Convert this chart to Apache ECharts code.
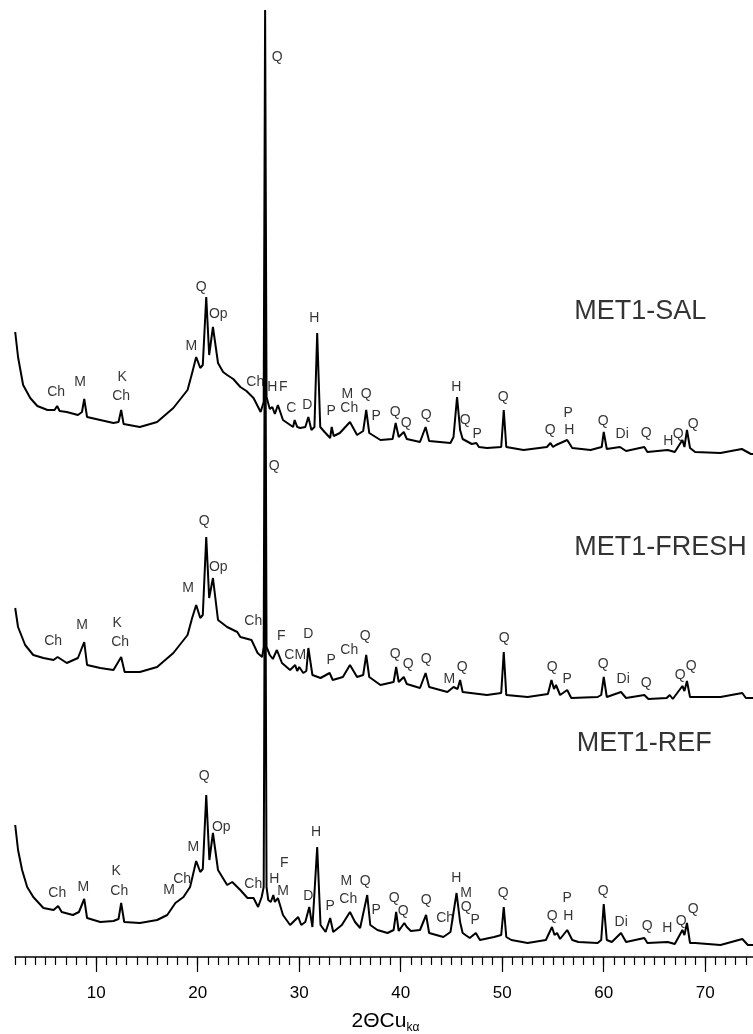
<!DOCTYPE html>
<html>
<head>
<meta charset="utf-8">
<title>XRD MET1</title>
<script src="https://cdn.jsdelivr.net/npm/echarts@6/dist/echarts.min.js"></script>
<style>
  html, body { margin: 0; padding: 0; background: #fff; }
  #chart { width: 753px; height: 1034px; }
</style>
</head>
<body>
<div id="chart"></div>
<script>
// diffractogrammes : [2theta, intensite (u.a., avec decalage vertical)]
var salTrace = [
  [2.02, 625], [2.3, 600], [2.8, 572], [3.5, 559], [4.2, 551], [5.2, 547], [5.9, 547], [6.15, 551],
  [6.4, 546], [7.1, 545], [8.2, 542], [8.6, 545], [8.82, 558], [9.1, 540], [10.4, 537], [11.7, 534],
  [12.2, 535], [12.46, 547], [12.7, 533], [14.3, 530], [16.0, 535], [17.6, 549], [19.0, 567], [19.45, 584],
  [19.85, 600], [20.25, 589], [20.5, 592], [20.84, 660], [21.13, 602], [21.5, 630], [22.0, 594], [22.5, 585],
  [22.9, 582], [23.5, 578], [24.2, 570], [24.8, 566], [25.5, 559], [26.2, 545], [26.5, 555], [26.64, 947],
  [26.78, 560], [27.1, 548], [27.35, 550], [27.6, 543], [27.9, 552], [28.4, 537], [29.4, 530], [29.55, 537],
  [29.8, 530], [30.1, 529], [30.6, 530], [30.9, 540], [31.2, 527], [31.5, 530], [31.77, 624], [32.07, 530],
  [32.5, 525], [33.05, 519], [33.2, 530], [33.4, 521], [34.0, 524], [35.0, 535], [35.7, 522], [36.3, 526],
  [36.6, 547], [36.9, 524], [38.0, 517], [39.2, 518], [39.5, 534], [39.8, 520], [40.3, 525], [40.6, 518],
  [41.9, 515], [42.45, 530], [42.8, 516], [44.9, 514], [45.2, 520], [45.55, 560], [45.85, 527], [46.1, 518],
  [47.0, 513], [47.45, 514], [47.7, 510], [48.5, 509], [49.9, 510], [50.15, 547], [50.4, 510], [52.1, 507],
  [54.4, 510], [54.75, 514], [55.0, 510], [55.3, 512], [56.4, 517], [56.9, 509], [58.7, 507], [59.8, 510],
  [60.0, 525], [60.3, 508], [61.6, 510], [62.2, 506], [64.0, 510], [64.3, 505], [66.3, 507], [67.0, 505],
  [67.75, 517], [67.95, 510], [68.2, 527], [68.5, 509], [69.0, 505], [71.5, 504], [73.6, 508], [74.5, 503],
  [75.0, 503]
];
var freshTrace = [
  [2.02, 349], [2.3, 330], [3.0, 312], [3.8, 302], [4.8, 299], [5.8, 297], [6.2, 300], [7.1, 294],
  [8.2, 299], [8.82, 315], [9.1, 292], [10.4, 289], [11.7, 287], [12.46, 300], [12.8, 285], [14.3, 285],
  [16.0, 290], [17.6, 304], [19.0, 322], [19.45, 339], [19.85, 352], [20.25, 339], [20.5, 342], [20.84, 420],
  [21.13, 359], [21.5, 379], [22.0, 337], [22.9, 330], [23.9, 325], [24.2, 320], [25.3, 317], [25.9, 304],
  [26.35, 300], [26.5, 310], [26.64, 740], [26.78, 310], [27.1, 302], [27.4, 298], [27.8, 307], [28.3, 294],
  [29.1, 287], [29.6, 292], [29.8, 286], [30.0, 290], [30.4, 284], [30.7, 286], [30.9, 309], [31.3, 282],
  [32.1, 279], [33.0, 284], [33.3, 277], [34.3, 280], [35.0, 292], [35.7, 280], [36.3, 282], [36.6, 302],
  [36.9, 280], [38.0, 272], [39.3, 275], [39.55, 290], [39.8, 275], [40.3, 280], [40.6, 273], [41.9, 269],
  [42.45, 284], [42.8, 270], [44.6, 265], [45.2, 270], [45.6, 268], [45.85, 277], [46.1, 265], [48.5, 262],
  [49.9, 264], [50.15, 305], [50.4, 262], [52.5, 260], [54.5, 263], [54.85, 277], [55.1, 268], [55.3, 272],
  [55.7, 262], [56.4, 267], [56.8, 259], [59.4, 260], [59.75, 262], [60.0, 280], [60.3, 260], [61.7, 265],
  [62.2, 259], [64.0, 262], [64.4, 258], [66.2, 259], [66.5, 262], [66.8, 258], [67.75, 271], [67.95, 266],
  [68.2, 276], [68.5, 260], [69.0, 260], [71.5, 260], [73.65, 264], [74.0, 259], [75.0, 259]
];
var refTrace = [
  [2.02, 132], [2.3, 107], [2.7, 87], [3.2, 70], [3.8, 60], [4.8, 49], [5.8, 47], [6.25, 51],
  [6.6, 45], [7.7, 42], [8.3, 45], [8.82, 58], [9.1, 39], [10.4, 35], [11.7, 36], [12.2, 38],
  [12.46, 54], [12.76, 35], [14.3, 34], [16.0, 37], [17.0, 42], [17.8, 54], [18.6, 60], [19.25, 70],
  [19.85, 96], [20.25, 85], [20.5, 88], [20.84, 162], [21.15, 97], [21.5, 124], [22.0, 87], [22.9, 72],
  [23.4, 75], [24.2, 67], [24.9, 59], [25.5, 59], [25.95, 50], [26.3, 60], [26.5, 70], [26.64, 500],
  [26.78, 70], [26.95, 57], [27.2, 55], [27.45, 62], [27.6, 55], [27.9, 59], [28.4, 42], [29.1, 32],
  [29.9, 40], [30.2, 32], [30.6, 35], [30.99, 50], [31.3, 30], [31.77, 110], [32.1, 32], [32.6, 25],
  [33.05, 39], [33.35, 25], [34.2, 32], [35.0, 45], [35.5, 35], [36.0, 29], [36.7, 62], [37.0, 32],
  [37.7, 27], [38.7, 24], [39.3, 27], [39.55, 45], [39.8, 26], [40.35, 34], [40.6, 30], [41.0, 26],
  [41.9, 27], [42.5, 42], [42.8, 24], [44.2, 20], [44.9, 25], [45.5, 64], [45.85, 35], [46.1, 24],
  [46.8, 19], [47.4, 24], [47.8, 17], [49.2, 20], [49.9, 22], [50.15, 50], [50.4, 20], [50.9, 17],
  [52.5, 14], [54.3, 17], [54.9, 30], [55.15, 22], [55.4, 24], [55.7, 18], [56.4, 27], [56.9, 17],
  [57.5, 15], [59.4, 14], [59.75, 17], [60.0, 53], [60.3, 17], [60.8, 15], [61.7, 24], [62.2, 15],
  [64.0, 19], [64.3, 14], [66.3, 15], [67.0, 13], [67.75, 27], [67.95, 22], [68.2, 34], [68.5, 14],
  [69.0, 14], [71.5, 12], [73.65, 18], [74.2, 12], [75.0, 12]
];

// phases identifiees : [2theta, hauteur, texte]
var salPhases = [
  [6.06, 565, 'Ch'], [8.42, 575, 'M'], [12.56, 580, 'K'], [12.46, 561, 'Ch'], [19.36, 611, 'M'],
  [20.34, 670, 'Q'], [22.02, 643, 'Op'], [25.67, 575, 'Ch'], [27.34, 570, 'H'], [28.42, 570, 'F'],
  [29.21, 549, 'C'], [30.79, 552, 'D'], [31.48, 639, 'H'], [33.15, 546, 'P'], [34.73, 563, 'M'],
  [34.93, 549, 'Ch'], [36.6, 563, 'Q'], [37.59, 541, 'P'], [39.46, 545, 'Q'], [40.54, 534, 'Q'],
  [42.51, 542, 'Q'], [45.47, 570, 'H'], [46.36, 537, 'Q'], [47.54, 523, 'P'], [50.1, 560, 'Q'],
  [54.73, 527, 'Q'], [56.5, 544, 'P'], [56.6, 527, 'H'], [59.95, 536, 'Q'], [61.82, 523, 'Di'],
  [64.19, 524, 'Q'], [66.35, 516, 'H'], [67.34, 523, 'Q'], [68.82, 533, 'Q'], [27.83, 900, 'Q']
];
var freshPhases = [
  [5.76, 316, 'Ch'], [8.62, 332, 'M'], [12.07, 334, 'K'], [12.36, 315, 'Ch'], [19.06, 369, 'M'],
  [20.64, 436, 'Q'], [22.02, 390, 'Op'], [25.47, 336, 'Ch'], [28.23, 321, 'F'], [29.61, 302, 'CM'],
  [30.89, 323, 'D'], [33.15, 297, 'P'], [34.93, 307, 'Ch'], [36.5, 321, 'Q'], [27.54, 491, 'Q'],
  [39.46, 303, 'Q'], [40.74, 293, 'Q'], [42.51, 298, 'Q'], [44.78, 278, 'M'], [46.06, 290, 'Q'],
  [50.2, 319, 'Q'], [54.93, 290, 'Q'], [56.4, 278, 'P'], [59.95, 293, 'Q'], [61.92, 278, 'Di'],
  [64.19, 274, 'Q'], [67.54, 282, 'Q'], [68.62, 291, 'Q']
];
var refPhases = [
  [6.16, 64, 'Ch'], [8.72, 70, 'M'], [11.97, 86, 'K'], [12.27, 66, 'Ch'], [17.19, 67, 'M'],
  [18.47, 78, 'Ch'], [19.56, 110, 'M'], [20.64, 181, 'Q'], [22.32, 130, 'Op'], [25.47, 73, 'Ch'],
  [27.54, 78, 'H'], [28.52, 94, 'F'], [28.42, 66, 'M'], [30.89, 61, 'D'], [31.67, 125, 'H'],
  [33.05, 51, 'P'], [34.63, 76, 'M'], [34.83, 58, 'Ch'], [36.5, 76, 'Q'], [37.59, 47, 'P'],
  [39.36, 59, 'Q'], [40.25, 46, 'Q'], [42.51, 57, 'Q'], [44.38, 39, 'Ch'], [45.47, 79, 'H'],
  [46.45, 64, 'M'], [46.45, 50, 'Q'], [47.34, 37, 'P'], [50.1, 64, 'Q'], [54.93, 41, 'Q'],
  [56.4, 59, 'P'], [56.5, 41, 'H'], [59.95, 66, 'Q'], [61.72, 35, 'Di'], [64.29, 31, 'Q'],
  [66.26, 29, 'H'], [67.64, 36, 'Q'], [68.82, 48, 'Q']
];
var sampleNames = [
  [63.6, 645, 'MET1-SAL'], [65.6, 409, 'MET1-FRESH'], [64.0, 213, 'MET1-REF']
];
var majorTicks = [10, 20, 30, 40, 50, 60, 70];

var FONT = '"Liberation Sans", Arial, sans-serif';

function toPoints(list) {
  return list.map(function (p) { return { value: [p[0], p[1]], name: p[2] }; });
}

function traceSeries(data) {
  return {
    type: 'line',
    data: data,
    symbol: 'none',
    lineStyle: { color: '#000', width: 2 },
    z: 2
  };
}

function labelSeries(list, size) {
  return {
    type: 'scatter',
    data: toPoints(list),
    symbolSize: 0,
    silent: true,
    itemStyle: { color: '#000' },
    label: {
      show: true,
      position: 'inside',
      formatter: '{b}',
      color: '#000',
      textBorderWidth: 0,
      textBorderColor: 'transparent',
      fontFamily: FONT,
      fontSize: size
    },
    z: 3
  };
}

var chart = echarts.init(document.getElementById('chart'));
var option = {
  animation: false,
  backgroundColor: '#fff',
  // v6 : ne pas retrecir la grille pour faire tenir les etiquettes
  grid: { left: 15, right: -3, top: 0, bottom: 77, containLabel: false, outerBoundsMode: 'none' },
  xAxis: [
    {   // petites graduations (pas de 1)
      type: 'value',
      min: 2,
      max: 75,
      interval: 1,
      position: 'bottom',
      axisLine: { lineStyle: { color: '#000', width: 1.5 } },
      axisTick: { length: 8, lineStyle: { color: '#000', width: 1.2 } },
      axisLabel: { show: false },
      splitLine: { show: false },
      name: '{a|2ΘCu}{b|kα}',
      nameLocation: 'middle',
      nameGap: 51,
      nameTextStyle: {
        rich: {
          a: { fontFamily: FONT, fontSize: 21, color: '#000', lineHeight: 26 },
          b: { fontFamily: FONT, fontSize: 12, color: '#000', lineHeight: 26, verticalAlign: 'bottom' }
        }
      }
    },
    {   // grandes graduations + etiquettes
      type: 'value',
      min: 2,
      max: 75,
      position: 'bottom',
      axisLine: { show: false },
      axisTick: { customValues: majorTicks, length: 15, lineStyle: { color: '#000', width: 1.2 } },
      axisLabel: {
        customValues: majorTicks,
        margin: 28,
        color: '#000',
        fontFamily: FONT,
        fontSize: 17
      },
      splitLine: { show: false }
    }
  ],
  yAxis: { type: 'value', min: 0, max: 957, show: false },
  series: [
    traceSeries(refTrace),
    traceSeries(freshTrace),
    traceSeries(salTrace),
    labelSeries(salPhases, 14),
    labelSeries(freshPhases, 14),
    labelSeries(refPhases, 14),
    labelSeries(sampleNames, 27)
  ]
};
chart.setOption(option);
</script>
</body>
</html>
